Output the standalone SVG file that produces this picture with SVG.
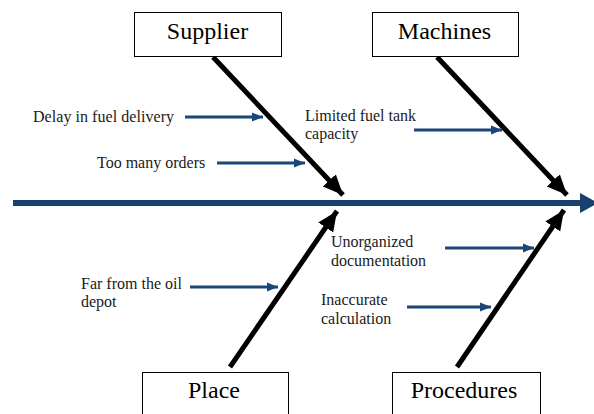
<svg xmlns="http://www.w3.org/2000/svg" width="594" height="414" viewBox="0 0 594 414">
<style>
.box{fill:#fff;stroke:#000;stroke-width:1}
.title{font-family:'Liberation Serif','Times New Roman',serif;font-size:24px;fill:#000;text-anchor:middle}
.lbl{font-family:'Liberation Serif','Times New Roman',serif;font-size:16px;fill:#1a1a1a}
.bone{stroke:#000;stroke-width:5;fill:none}
.sub{stroke:#1b4677;stroke-width:3;fill:none}
</style>
<defs>
<marker id="bh" markerUnits="userSpaceOnUse" markerWidth="22" markerHeight="20" refX="20" refY="9" orient="auto" viewBox="0 0 22 20">
<path d="M0,0 L20,9 L0,18 Z" fill="#000"/>
</marker>
<marker id="sh" markerUnits="userSpaceOnUse" markerWidth="12" markerHeight="10" refX="11" refY="5" orient="auto" viewBox="0 0 12 10">
<path d="M0,0.5 L11,5 L0,9.5 Z" fill="#1b4677"/>
</marker>
</defs>
<rect width="594" height="414" fill="#fff"/>
<g id="connectors">
<line x1="13" y1="203" x2="582" y2="203" stroke="#17406d" stroke-width="6"/>
<path d="M580,193 L598,203 L580,213 Z" fill="#17406d"/>
<line class="bone" x1="213" y1="57" x2="343" y2="195" marker-end="url(#bh)"/>
<line class="bone" x1="437" y1="57" x2="567" y2="195" marker-end="url(#bh)"/>
<line class="bone" x1="230" y1="367" x2="337" y2="211" marker-end="url(#bh)"/>
<line class="bone" x1="457" y1="367" x2="564" y2="210" marker-end="url(#bh)"/>
<line class="sub" x1="185" y1="117" x2="263" y2="117" marker-end="url(#sh)"/>
<line class="sub" x1="217" y1="163" x2="305" y2="163" marker-end="url(#sh)"/>
<line class="sub" x1="414" y1="130" x2="502" y2="130" marker-end="url(#sh)"/>
<line class="sub" x1="190" y1="287" x2="278" y2="287" marker-end="url(#sh)"/>
<line class="sub" x1="445" y1="248" x2="534" y2="248" marker-end="url(#sh)"/>
<line class="sub" x1="407" y1="307" x2="491" y2="307" marker-end="url(#sh)"/>
</g>
<g id="supplier"><rect class="box" x="134.5" y="12.5" width="147" height="44"/><text class="title" x="207.5" y="39">Supplier</text></g>
<g id="machines"><rect class="box" x="372.5" y="12.5" width="146" height="44"/><text class="title" x="444.5" y="39">Machines</text></g>
<g id="place"><rect class="box" x="142.5" y="372.5" width="146" height="50"/><text class="title" x="214" y="398">Place</text></g>
<g id="procedures"><rect class="box" x="392.5" y="372.5" width="148" height="50"/><text class="title" x="464" y="398">Procedures</text></g>
<g id="cause-delay"><text class="lbl" x="33" y="122" textLength="141" lengthAdjust="spacing">Delay in fuel delivery</text></g>
<g id="cause-orders"><text class="lbl" x="97" y="168">Too many orders</text></g>
<g id="cause-tank"><text class="lbl" x="305" y="121">Limited fuel tank</text><text class="lbl" x="305" y="139">capacity</text></g>
<g id="cause-far"><text class="lbl" x="81" y="289">Far from the oil</text><text class="lbl" x="81" y="307">depot</text></g>
<g id="cause-doc"><text class="lbl" x="331" y="247">Unorganized</text><text class="lbl" x="331" y="266">documentation</text></g>
<g id="cause-calc"><text class="lbl" x="321" y="305">Inaccurate</text><text class="lbl" x="321" y="324">calculation</text></g>
</svg>
